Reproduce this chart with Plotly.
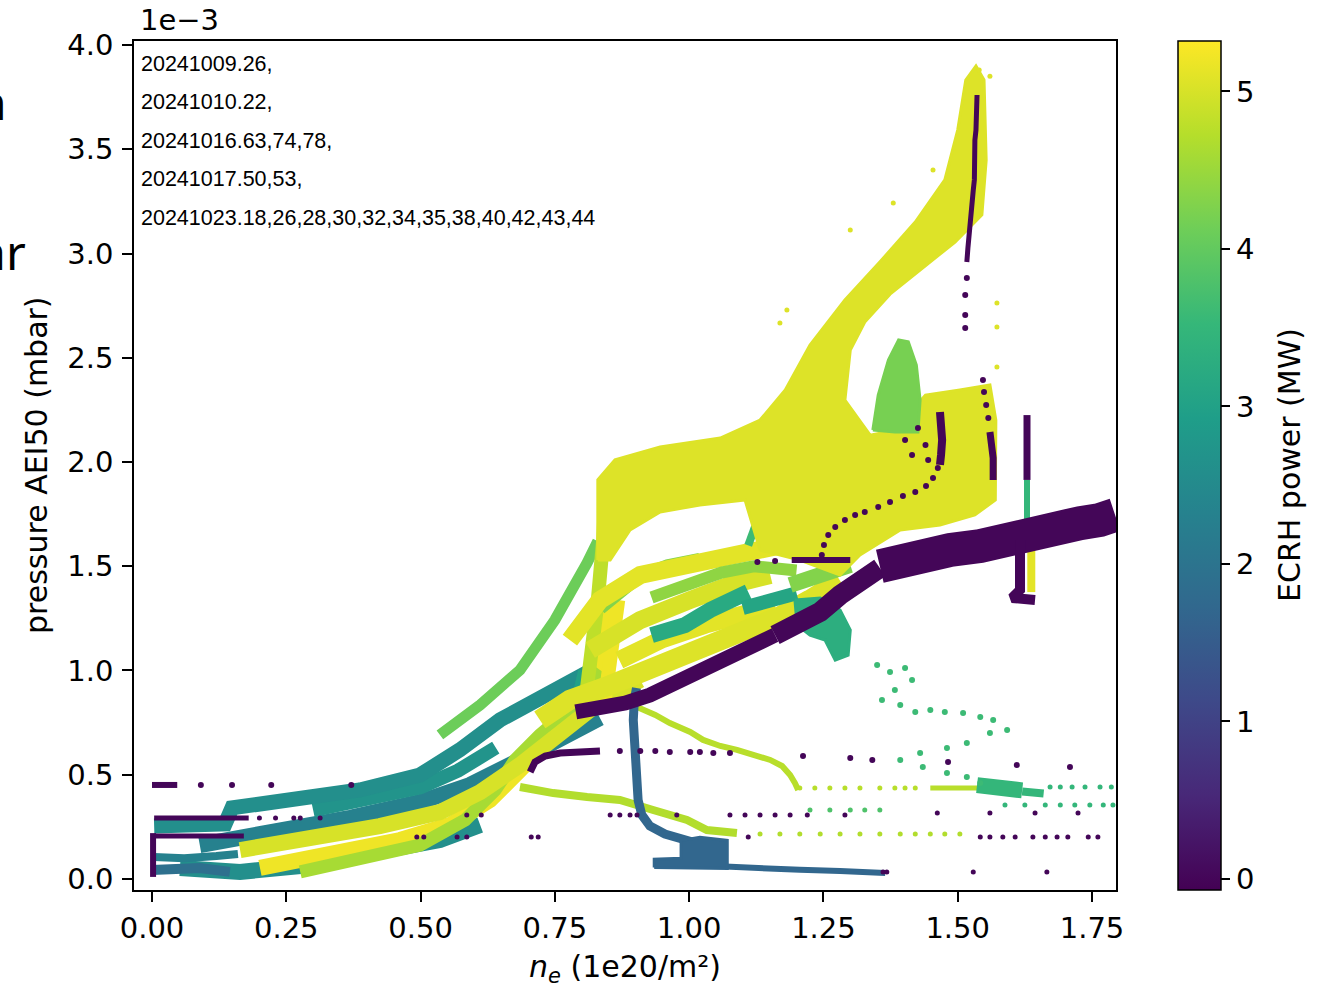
import plotly.graph_objects as go
from plotly.colors import sample_colorscale

# ======================= DATA =======================
# colour-bar range (ECRH power, MW)
power_min, power_max = -0.07, 5.32

x_tick_vals = [0.0, 0.25, 0.5, 0.75, 1.0, 1.25, 1.5, 1.75]
x_tick_text = ["0.00", "0.25", "0.50", "0.75", "1.00", "1.25", "1.50", "1.75"]
y_tick_vals = [0.0, 0.5, 1.0, 1.5, 2.0, 2.5, 3.0, 3.5, 4.0]
y_tick_text = ["0.0", "0.5", "1.0", "1.5", "2.0", "2.5", "3.0", "3.5", "4.0"]
cbar_tick_vals = [0, 1, 2, 3, 4, 5]

shot_lines = [
    "20241009.26,",
    "20241010.22,",
    "20241016.63,74,78,",
    "20241017.50,53,",
    "20241023.18,26,28,30,32,34,35,38,40,42,43,44",
]

# dense tracks: (n_e [1e20/m^2], pressure [1e-3 mbar])
ll_teal_c = [(0.052, 0.053), (0.164, 0.034), (0.276, 0.062), (0.424, 0.129), (0.536, 0.187), (0.611, 0.259)]
origin_blue = [(0.000, 0.043), (0.089, 0.053), (0.145, 0.034)]
origin_teal = [(0.004, 0.105), (0.060, 0.100), (0.120, 0.110), (0.160, 0.120)]
ll_teal_b = [(0.089, 0.163), (0.238, 0.225), (0.369, 0.293), (0.499, 0.369), (0.592, 0.451),
             (0.685, 0.571), (0.760, 0.681), (0.834, 0.772)]
ll_teal_d = [(0.300, 0.330), (0.400, 0.380), (0.500, 0.440), (0.570, 0.520), (0.640, 0.630)]
ll_teal_a = [(0.004, 0.254), (0.136, 0.264), (0.149, 0.341), (0.276, 0.379), (0.387, 0.427),
             (0.499, 0.499), (0.573, 0.619), (0.648, 0.763), (0.722, 0.868), (0.797, 0.954), (0.853, 1.050)]
ll_yellow_b = [(0.201, 0.053), (0.331, 0.120), (0.462, 0.187), (0.555, 0.259), (0.629, 0.379),
               (0.685, 0.523), (0.741, 0.667), (0.788, 0.801), (0.825, 0.954), (0.843, 1.146), (0.853, 1.338)]
ll_lime = [(0.276, 0.034), (0.387, 0.091), (0.499, 0.163), (0.583, 0.283), (0.639, 0.427),
           (0.676, 0.571), (0.722, 0.691), (0.788, 0.835), (0.834, 1.002)]
ll_yellow_a = [(0.164, 0.139), (0.276, 0.187), (0.424, 0.254), (0.536, 0.321), (0.611, 0.417),
               (0.685, 0.547), (0.760, 0.705), (0.834, 0.849), (0.909, 0.954)]
ll_green = [(0.536, 0.691), (0.611, 0.835), (0.685, 1.002), (0.750, 1.242), (0.810, 1.516), (0.830, 1.620)]

steep_teal = [(0.788, 0.859), (0.801, 1.002)]
steep_a = [(0.806, 0.835), (0.819, 1.050), (0.830, 1.338), (0.840, 1.626), (0.845, 1.914)]
steep_b = [(0.843, 0.859), (0.856, 1.098), (0.868, 1.338)]
mid_yellow_c = [(0.816, 1.098), (0.909, 1.242), (1.002, 1.338), (1.076, 1.410), (1.151, 1.458)]
mid_green = [(0.834, 1.300), (0.900, 1.440), (0.960, 1.500), (1.020, 1.530)]
mid_yellow_b = [(0.778, 1.146), (0.834, 1.338), (0.909, 1.458), (1.020, 1.516), (1.113, 1.554),
                (1.188, 1.602), (1.262, 1.650)]
mid_yellow_d = [(0.870, 1.050), (0.950, 1.150), (1.030, 1.220), (1.100, 1.270), (1.160, 1.310)]
mid_green_c = [(0.930, 1.350), (1.000, 1.420), (1.060, 1.470), (1.120, 1.500), (1.200, 1.480)]
mid_yellow_a = [(0.722, 0.763), (0.778, 0.860), (0.853, 0.930), (0.946, 1.020), (1.020, 1.100),
                (1.095, 1.180), (1.169, 1.260), (1.225, 1.340), (1.281, 1.430)]
mid_teal = [(0.930, 1.170), (0.992, 1.218), (1.039, 1.290), (1.085, 1.348), (1.110, 1.376)]
mid_teal_b = [(1.100, 1.300), (1.150, 1.330), (1.200, 1.370)]
mid_green_b = [(1.188, 1.410), (1.244, 1.458), (1.300, 1.506)]
seafoam = [(1.110, 1.600), (1.130, 1.740)]

# filled regions (outline points)
cloud_outline = [
    (0.830, 1.530), (0.830, 1.914), (0.862, 2.010), (0.946, 2.072), (1.058, 2.115), (1.132, 2.201),
    (1.179, 2.345), (1.225, 2.561), (1.290, 2.777), (1.355, 2.959), (1.421, 3.151), (1.476, 3.353),
    (1.500, 3.592), (1.515, 3.832), (1.534, 3.899), (1.549, 3.832), (1.553, 3.448), (1.545, 3.185),
    (1.495, 3.055), (1.430, 2.920), (1.374, 2.805), (1.327, 2.671), (1.300, 2.537), (1.290, 2.297),
    (1.337, 2.129), (1.383, 2.153), (1.440, 2.321), (1.504, 2.345), (1.560, 2.369), (1.571, 2.201),
    (1.570, 1.818), (1.532, 1.746), (1.467, 1.698), (1.393, 1.674), (1.318, 1.554), (1.281, 1.458),
    (1.206, 1.530), (1.132, 1.578), (1.104, 1.818), (1.020, 1.794), (0.946, 1.760), (0.890, 1.674),
    (0.853, 1.530),
]
green_spike = [(1.342, 2.153), (1.352, 2.321), (1.371, 2.489), (1.390, 2.585), (1.408, 2.576),
               (1.423, 2.465), (1.430, 2.297), (1.426, 2.144), (1.383, 2.144)]
teal_blob = [(1.197, 1.338), (1.244, 1.348), (1.281, 1.290), (1.300, 1.194), (1.296, 1.074),
             (1.272, 1.050), (1.253, 1.146), (1.225, 1.170), (1.201, 1.218)]
blue_blob = [(0.935, 0.055), (0.935, 0.095), (0.985, 0.100), (0.985, 0.185), (1.020, 0.200),
             (1.071, 0.185), (1.071, 0.050)]

lime_arc = [(0.903, 0.825), (0.937, 0.787), (0.964, 0.748), (1.002, 0.705), (1.026, 0.667),
            (1.058, 0.638), (1.089, 0.619), (1.123, 0.590), (1.151, 0.571), (1.173, 0.542),
            (1.188, 0.499), (1.197, 0.460), (1.203, 0.427)]
lime_row_line = [(1.449, 0.436), (1.536, 0.436)]
lime_low = [(0.685, 0.441), (0.747, 0.412), (0.810, 0.393), (0.871, 0.379), (0.933, 0.331),
            (0.996, 0.283), (1.033, 0.235), (1.089, 0.221)]
teal_cluster_a = [(1.536, 0.450), (1.620, 0.425)]
teal_cluster_b = [(1.620, 0.420), (1.660, 0.410)]
teal_vert = [(1.629, 1.914), (1.629, 1.698)]
yellow_vert = [(1.637, 1.578), (1.637, 1.376)]

blue_vertical = [(0.902, 0.916), (0.898, 0.859), (0.896, 0.763), (0.898, 0.667), (0.900, 0.571),
                 (0.902, 0.475), (0.905, 0.379), (0.912, 0.307), (0.927, 0.254), (0.955, 0.216),
                 (0.992, 0.187), (1.030, 0.163), (1.058, 0.139)]
blue_bottom_thin = [(1.067, 0.060), (1.132, 0.050), (1.206, 0.044), (1.281, 0.038), (1.365, 0.029)]

purple_band_left = [(0.789, 0.801), (0.834, 0.820), (0.881, 0.844), (0.927, 0.882), (0.974, 0.940),
                    (1.020, 1.002), (1.067, 1.065), (1.113, 1.122), (1.160, 1.170)]
purple_band_mid = [(1.160, 1.170), (1.206, 1.218), (1.244, 1.281), (1.281, 1.362), (1.318, 1.434),
                   (1.355, 1.492)]
purple_band_right = [(1.355, 1.500), (1.393, 1.530), (1.430, 1.549), (1.486, 1.578), (1.542, 1.597),
                     (1.579, 1.626), (1.616, 1.650), (1.653, 1.664), (1.691, 1.683), (1.728, 1.707),
                     (1.765, 1.722), (1.793, 1.746)]
purple_drop = [(1.616, 1.626), (1.616, 1.386), (1.601, 1.348), (1.644, 1.338)]
purple_top = [(1.536, 3.760), (1.536, 3.712), (1.534, 3.650), (1.534, 3.592), (1.532, 3.544),
              (1.532, 3.496), (1.532, 3.448), (1.531, 3.400), (1.531, 3.353), (1.529, 3.305),
              (1.527, 3.257), (1.525, 3.209), (1.523, 3.151), (1.521, 3.089), (1.519, 3.026),
              (1.517, 2.959)]
purple_x156 = [(1.560, 2.144), (1.564, 2.082), (1.566, 2.019), (1.566, 1.962), (1.566, 1.914)]
purple_x147 = [(1.467, 2.240), (1.469, 2.177), (1.471, 2.106), (1.469, 2.034), (1.467, 1.986)]
purple_x163 = [(1.629, 2.225), (1.629, 1.914)]
purple_h153 = [(1.191, 1.530), (1.300, 1.530)]
purple_lower_curve = [(0.704, 0.513), (0.713, 0.561), (0.732, 0.590), (0.760, 0.604), (0.797, 0.609),
                      (0.834, 0.614)]
purple_l045 = [(0.000, 0.451), (0.047, 0.451)]
purple_l029 = [(0.004, 0.293), (0.180, 0.293)]
purple_l020 = [(0.004, 0.206), (0.171, 0.206)]
purple_v0 = [(0.002, 0.010), (0.002, 0.220)]

# sparse point series
yellow_spray_ne = [1.454, 1.380, 1.300, 1.573, 1.573, 1.573, 1.182, 1.169, 1.540, 1.560]
yellow_spray_p = [3.400, 3.242, 3.113, 2.763, 2.648, 2.456, 2.729, 2.667, 3.880, 3.850]
lime_row_ne = [1.206, 1.234, 1.262, 1.290, 1.318, 1.355, 1.383, 1.402, 1.421]
lime_row_p = [0.436] * 9
lime_dash_ne = [1.132, 1.169, 1.206, 1.244, 1.281, 1.318, 1.355, 1.393, 1.421, 1.449, 1.476, 1.504]
lime_dash_p = [0.216] * 12
green_row_ne = [1.225, 1.262, 1.300, 1.327, 1.355]
green_row_p = [0.331] * 5
zigzag_ne = [1.350, 1.374, 1.402, 1.415, 1.383, 1.359, 1.393, 1.421, 1.449, 1.476, 1.510, 1.542,
             1.566, 1.592, 1.560, 1.517, 1.480, 1.430, 1.393, 1.435, 1.480, 1.517, 1.542]
zigzag_p = [1.026, 0.993, 1.012, 0.954, 0.906, 0.859, 0.835, 0.801, 0.811, 0.801, 0.796, 0.777,
            0.763, 0.715, 0.700, 0.652, 0.628, 0.604, 0.571, 0.537, 0.508, 0.489, 0.460]
teal_row_a_ne = [1.672, 1.691, 1.713, 1.737, 1.765, 1.786]
teal_row_a_p = [0.441] * 6
teal_row_b_ne = [1.588, 1.625, 1.663, 1.691, 1.718, 1.746, 1.771, 1.789]
teal_row_b_p = [0.355] * 8
purple_top_dots_ne = [1.517, 1.514, 1.514, 1.514]
purple_top_dots_p = [2.882, 2.801, 2.705, 2.643]
purple_x156_dots_ne = [1.547, 1.549, 1.553, 1.557]
purple_x156_dots_p = [2.393, 2.336, 2.273, 2.211]
purple_curve_ne = [1.247, 1.251, 1.259, 1.272, 1.290, 1.309, 1.327, 1.352, 1.374, 1.398, 1.421, 1.441,
                   1.454, 1.463, 1.426, 1.402, 1.440, 1.415, 1.445, 1.127, 1.160]
purple_curve_p = [1.554, 1.602, 1.650, 1.688, 1.722, 1.746, 1.760, 1.784, 1.808, 1.837, 1.856, 1.885,
                  1.923, 1.971, 2.163, 2.106, 2.082, 2.034, 2.010, 1.520, 1.525]
purple_row_061_ne = [0.871, 0.909, 0.937, 0.964, 1.002, 1.020, 1.045, 1.076, 1.212, 1.300, 1.341, 1.482,
                     1.610, 1.709]
purple_row_061_p = [0.614, 0.614, 0.614, 0.609, 0.609, 0.609, 0.604, 0.604, 0.590, 0.580, 0.571, 0.561,
                    0.547, 0.537]
purple_row_030_ne = [0.200, 0.230, 0.264, 0.276, 0.313, 0.586, 0.613, 0.853, 0.871, 0.890, 0.903, 0.977,
                     1.076, 1.104, 1.132, 1.160, 1.188, 1.220, 1.290, 1.462, 1.560, 1.644, 1.724]
purple_row_030_p = [0.293, 0.293, 0.293, 0.293, 0.293, 0.307, 0.307, 0.307, 0.307, 0.307, 0.307, 0.307,
                    0.307, 0.307, 0.307, 0.307, 0.307, 0.307, 0.307, 0.317, 0.317, 0.317, 0.317]
purple_row_020_ne = [0.493, 0.506, 0.568, 0.586, 0.706, 0.719, 1.110, 1.542, 1.560, 1.584, 1.607, 1.640,
                     1.663, 1.685, 1.705, 1.743, 1.761]
purple_row_020_p = [0.201] * 17
purple_row_045_ne = [0.091, 0.149, 0.222, 0.371]
purple_row_045_p = [0.451] * 4
purple_row_003_ne = [1.361, 1.368, 1.529, 1.666]
purple_row_003_p = [0.034] * 4

# (track, ECRH power in MW) in drawing order
tracks_under = [
    (ll_teal_c, 2.6), (origin_blue, 1.9), (origin_teal, 2.3), (ll_teal_b, 2.3), (ll_teal_d, 2.7),
    (ll_teal_a, 2.6), (ll_yellow_b, 5.2), (ll_lime, 4.6), (ll_yellow_a, 5.0), (ll_green, 4.1),
    (steep_teal, 3.0), (steep_a, 4.8), (steep_b, 5.2), (mid_yellow_c, 5.0), (mid_green, 4.3),
    (mid_yellow_b, 5.1), (mid_yellow_d, 5.1), (mid_green_c, 4.4), (mid_yellow_a, 5.05), (mid_teal, 3.2),
    (mid_teal_b, 3.1), (mid_green_b, 4.3), (seafoam, 3.6),
]
regions = [(cloud_outline, 5.05), (green_spike, 4.2), (teal_blob, 3.3)]
tracks_mid = [
    (lime_arc, 4.75), (lime_row_line, 4.75), (lime_low, 4.7), (teal_cluster_a, 3.5), (teal_cluster_b, 3.5),
    (teal_vert, 3.5), (yellow_vert, 5.1),
    (blue_vertical, 1.7), (blue_bottom_thin, 1.7),
    (purple_band_left, 0.0), (purple_band_mid, 0.0), (purple_band_right, 0.0), (purple_drop, 0.0),
    (purple_top, 0.0), (purple_x156, 0.0), (purple_x147, 0.0), (purple_x163, 0.0), (purple_h153, 0.0),
    (purple_lower_curve, 0.0), (purple_l045, 0.0), (purple_l029, 0.0), (purple_l020, 0.0), (purple_v0, 0.0),
]
late_regions = [(blue_blob, 1.7)]
dot_series = [
    (yellow_spray_ne, yellow_spray_p, 5.05), (lime_row_ne, lime_row_p, 4.75), (lime_dash_ne, lime_dash_p, 4.7),
    (green_row_ne, green_row_p, 3.8), (zigzag_ne, zigzag_p, 3.6), (teal_row_a_ne, teal_row_a_p, 3.5),
    (teal_row_b_ne, teal_row_b_p, 3.5), (purple_top_dots_ne, purple_top_dots_p, 0.0),
    (purple_x156_dots_ne, purple_x156_dots_p, 0.0), (purple_curve_ne, purple_curve_p, 0.0),
    (purple_row_061_ne, purple_row_061_p, 0.0), (purple_row_030_ne, purple_row_030_p, 0.0),
    (purple_row_020_ne, purple_row_020_p, 0.0), (purple_row_045_ne, purple_row_045_p, 0.0),
    (purple_row_003_ne, purple_row_003_p, 0.0),
]

# ======================= STYLE =======================
FONT = "DejaVu Sans"
TICK_SIZE = 29
TITLE_SIZE = 30
under_widths = [16, 10, 8, 16, 14, 15, 16, 13, 16, 11, 8, 14, 14, 18, 14, 18, 18, 12, 20, 16, 14, 16, 8]
mid_widths = [6, 5, 8, 16, 8, 6, 8, 9, 6,
              15, 20, 34, 10, 5, 7, 8, 7, 6, 7, 6, 5, 5, 6]
dot_sizes = [5, 5, 5, 5, 6, 5, 5, 6, 6, 6, 6, 5, 5, 6, 5]


def vcolor(p):
    t = (p - power_min) / (power_max - power_min)
    return sample_colorscale("Viridis", [min(max(t, 0.0), 1.0)])[0]


fig = go.Figure()


def add_track(points, power, width):
    xs = [pt[0] for pt in points]
    ys = [pt[1] for pt in points]
    fig.add_trace(go.Scatter(x=xs, y=ys, mode="lines", hoverinfo="skip", showlegend=False,
                             line=dict(color=vcolor(power), width=width)))


def add_region(pts, pw):
    xs = [pt[0] for pt in pts] + [pts[0][0]]
    ys = [pt[1] for pt in pts] + [pts[0][1]]
    fig.add_trace(go.Scatter(x=xs, y=ys, mode="lines", fill="toself", fillcolor=vcolor(pw),
                             line=dict(color=vcolor(pw), width=3), hoverinfo="skip", showlegend=False))


for (pts, pw), w in zip(tracks_under, under_widths):
    add_track(pts, pw, w)
for pts, pw in regions:
    add_region(pts, pw)
for (pts, pw), w in zip(tracks_mid, mid_widths):
    add_track(pts, pw, w)
for pts, pw in late_regions:
    add_region(pts, pw)

for i, ((ne, pr, pw), sz) in enumerate(zip(dot_series, dot_sizes)):
    last = i == len(dot_series) - 1
    fig.add_trace(go.Scatter(
        x=ne, y=pr, mode="markers", hoverinfo="skip", showlegend=False,
        marker=dict(size=sz, color=[pw] * len(ne), colorscale="Viridis", cmin=power_min, cmax=power_max,
                    line=dict(width=0), showscale=last,
                    colorbar=dict(x=(1178 - 134) / 982, xanchor="left", y=0.5, yanchor="middle",
                                  len=1.0, lenmode="fraction", thickness=43, thicknessmode="pixels",
                                  xpad=0, ypad=0, outlinewidth=1.5, outlinecolor="black",
                                  ticks="outside", ticklen=9, tickwidth=1.5, tickcolor="black",
                                  tickvals=cbar_tick_vals,
                                  tickfont=dict(size=TICK_SIZE, family=FONT, color="black")))))

axis_common = dict(showline=True, linecolor="black", linewidth=1.5, mirror=True, showgrid=False,
                   zeroline=False, ticks="outside", ticklen=10, tickwidth=1.5, tickcolor="black",
                   tickfont=dict(size=TICK_SIZE, family=FONT, color="black"))

fig.update_layout(
    width=1317, height=990,
    margin=dict(l=134, r=201, t=41, b=100, pad=0),
    paper_bgcolor="white", plot_bgcolor="white",
    font=dict(family=FONT, color="black"),
    showlegend=False,
    xaxis=dict(range=[-0.0335, 1.7947], tickvals=x_tick_vals, ticktext=x_tick_text,
               ticklabelstandoff=1, **axis_common),
    yaxis=dict(range=[-0.0528, 4.0192], tickvals=y_tick_vals, ticktext=y_tick_text,
               ticklabelstandoff=3, **axis_common),
)

ann = []
ann.append(dict(text="1e\u22123", x=0.0041, y=1.0247, xref="paper", yref="paper", xanchor="left",
                yanchor="middle", showarrow=False, font=dict(size=TICK_SIZE, family=FONT, color="black")))
for txt, yp in zip(shot_lines, [0.9729, 0.9282, 0.8822, 0.8375, 0.7915]):
    ann.append(dict(text=txt, x=0.0051, y=yp, xref="paper", yref="paper", xanchor="left", yanchor="middle",
                    showarrow=False, font=dict(size=21.5, family="Liberation Sans", color="black")))
ann.append(dict(text="pressure AEI50 (mbar)", x=-0.0988, y=0.5006, xref="paper", yref="paper",
                xanchor="center", yanchor="middle", textangle=-90, showarrow=False,
                font=dict(size=TITLE_SIZE, family=FONT, color="black")))
ann.append(dict(text="ECRH power (MW)", x=(1290 - 134) / 982, y=0.5006, xref="paper", yref="paper",
                xanchor="center", yanchor="middle", textangle=-90, showarrow=False,
                font=dict(size=TITLE_SIZE, family=FONT, color="black")))
ann.append(dict(text="<i>n</i><sub><i>e</i></sub> (1e20/m²)", x=0.5, y=-0.0919, xref="paper", yref="paper",
                xanchor="center", yanchor="middle", showarrow=False,
                font=dict(size=TITLE_SIZE, family=FONT, color="black")))
ann.append(dict(text="n", x=-0.1273, y=0.9293, xref="paper", yref="paper", xanchor="right",
                yanchor="middle", showarrow=False, font=dict(size=48, family="Noto Sans", color="black")))
ann.append(dict(text="ar", x=-0.1079, y=0.7515, xref="paper", yref="paper", xanchor="right",
                yanchor="middle", showarrow=False, font=dict(size=48, family="Noto Sans", color="black")))
fig.update_layout(annotations=ann)

fig.write_html("out.html")
